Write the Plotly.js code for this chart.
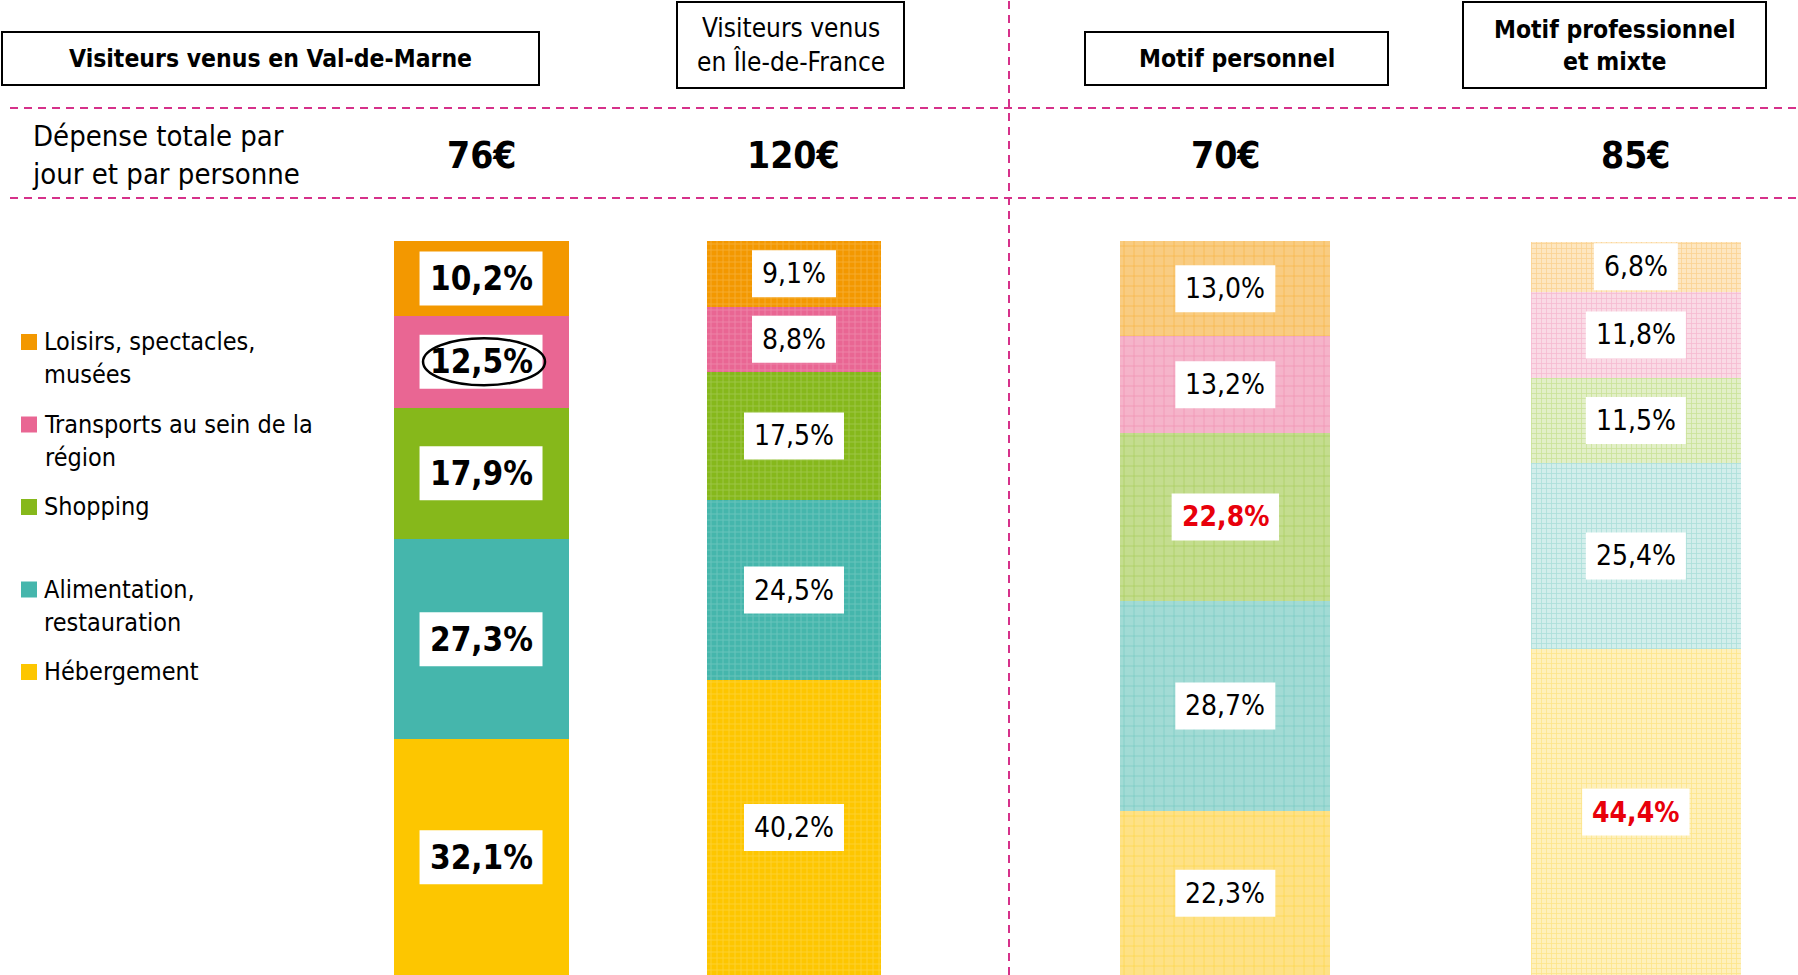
<!DOCTYPE html>
<html lang="fr">
<head>
    <meta charset="UTF-8">
    <script src="https://cdn.plot.ly/plotly-3.0.1.min.js"></script>
    <style>
        html, body, #plot {
            height: 100%;
            width: 100%;
            margin: 0;
            padding: 0;
            overflow: hidden;
            background: #ffffff;
        }
    </style>
</head>
<body>
<div id="plot"></div>
<script>
    // one stacked bar per group
    const groups = ['Val-de-Marne', 'Île-de-France', 'Motif personnel', 'Motif professionnel et mixte'];
    const groupTitles = ['Visiteurs venus en Val-de-Marne', 'Visiteurs venus<br>en Île-de-France', 'Motif personnel', 'Motif professionnel<br>et mixte'];
    const dailySpend = ['76€', '120€', '70€', '85€'];

    // spending categories, bottom of the stack first
    const categories = ['Hébergement', 'Alimentation,<br>restauration', 'Shopping', 'Transports au sein de la<br>région', 'Loisirs, spectacles,<br>musées'];
    const hebergement = [32.1, 40.2, 22.3, 44.4];
    const alimentation = [27.3, 24.5, 28.7, 25.4];
    const shopping = [17.9, 17.5, 22.8, 11.5];
    const transports = [12.5, 8.8, 13.2, 11.8];
    const loisirs = [10.2, 9.1, 13.0, 6.8];
    const shares = [hebergement, alimentation, shopping, transports, loisirs];

    // [category index, group index] of the values printed in red, and the circled one
    const redValues = [[2, 2], [0, 3]];
    const circledValue = [3, 0];

    function loadChart() {
        const W = 1798, H = 975;
        const font = '"Liberation Sans Narrow", "DejaVu Sans Condensed", "Arial Narrow", sans-serif';
        const px = x => x / W;
        const py = y => 1 - y / H;

        // pixels per category on each x axis and per percent on the y axis
        const catPx = [313, 410.5];
        const plotTop = 241;
        const unitPx = (H - plotTop) / 100;

        const baseColors = ['#FDC600', '#45B6AC', '#86B81B', '#E96693', '#F39800'];
        const midColors = ['#FEE186', '#A2DBD5', '#C4DD8F', '#F5B4CA', '#F9CC82'];
        const paleColors = ['#FEF0BC', '#D2EEEB', '#E2EFC8', '#FADAE5', '#FDE6C0'];
        const lineColors = ['#FDD95A', '#86D0C9', '#B2D46A', '#F19CBB', '#F8BF63'];

        // pattern used by each group
        function markerFor(g, c) {
            if (g === 0) {
                return {color: baseColors[c], line: {width: 0}};
            }
            if (g === 1) {
                return {
                    color: baseColors[c], line: {width: 0},
                    pattern: {shape: '+', fillmode: 'overlay', bgcolor: baseColors[c],
                              fgcolor: 'rgba(255,255,255,0.4)', size: 6, solidity: 0.28}
                };
            }
            if (g === 2) {
                return {
                    color: midColors[c], line: {width: 0},
                    pattern: {shape: '+', fillmode: 'overlay', bgcolor: midColors[c],
                              fgcolor: baseColors[c], size: 10, solidity: 0.12}
                };
            }
            return {
                color: paleColors[c], line: {width: 0},
                pattern: {shape: '+', fillmode: 'overlay', bgcolor: paleColors[c],
                          fgcolor: lineColors[c], size: 5, solidity: 0.3}
            };
        }

        const axisOf = g => (g < 2 ? 'x' : 'x2');
        const catIndex = g => g % 2;
        const traces = [];
        groups.forEach((grp, g) => {
            shares.forEach((vals, c) => {
                traces.push({
                    type: 'bar',
                    x: [grp],
                    y: [vals[g]],
                    xaxis: axisOf(g),
                    yaxis: 'y',
                    width: g < 2 ? 0.559 : 0.512,
                    marker: markerFor(g, c),
                    hoverinfo: 'skip',
                    showlegend: false
                });
            });
        });

        const annotations = [];
        const shapes = [];
        const ctx = document.createElement('canvas').getContext('2d');

        // value labels in white boxes
        let ellipse = null;
        groups.forEach((grp, g) => {
            let base = 0;
            const k = g < 2 ? 0 : 1;
            shares.forEach((vals, c) => {
                const v = vals[g];
                const label = v.toFixed(1).replace('.', ',') + '%';
                const isRed = redValues.some(r => r[0] === c && r[1] === g);
                const bold = g === 0 || isRed;
                const size = g === 0 ? 33 : 28;
                ctx.font = (bold ? 'bold ' : '') + size + 'px ' + font;
                const boxW = ctx.measureText(label).width + 20;
                const boxH = g === 0 ? 54 : 47;
                const mid = base + v / 2;
                const cx = catIndex(g);
                shapes.push({
                    type: 'rect', layer: 'above',
                    xref: axisOf(g), yref: 'y',
                    x0: cx - boxW / 2 / catPx[k], x1: cx + boxW / 2 / catPx[k],
                    y0: mid - boxH / 2 / unitPx, y1: mid + boxH / 2 / unitPx,
                    fillcolor: '#ffffff', line: {width: 0}
                });
                annotations.push({
                    xref: axisOf(g), yref: 'y',
                    x: grp, y: mid,
                    xanchor: 'center', yanchor: 'middle',
                    text: bold ? '<b>' + label + '</b>' : label,
                    showarrow: false,
                    font: {family: font, size: size, color: isRed ? '#E8000B' : '#000000'}
                });
                if (c === circledValue[0] && g === circledValue[1]) {
                    ellipse = {
                        type: 'circle', layer: 'above',
                        xref: axisOf(g), yref: 'y',
                        x0: cx - 58 / catPx[k], x1: cx + 64 / catPx[k],
                        y0: mid - 23.5 / unitPx, y1: mid + 23.5 / unitPx,
                        line: {color: '#000000', width: 2.5}
                    };
                }
                base += v;
            });
        });
        if (ellipse) shapes.push(ellipse);

        // header boxes
        const boxes = [[2, 32, 539, 85], [677, 2, 904, 88], [1085, 32, 1388, 85], [1463, 2, 1766, 88]];
        boxes.forEach((b, i) => {
            shapes.push({
                type: 'rect', xref: 'paper', yref: 'paper',
                x0: px(b[0]), x1: px(b[2]), y0: py(b[1]), y1: py(b[3]),
                line: {color: '#000000', width: 2}, fillcolor: '#ffffff'
            });
            annotations.push({
                xref: 'paper', yref: 'paper',
                x: px((b[0] + b[2]) / 2), y: py((b[1] + b[3]) / 2),
                xanchor: 'center', yanchor: 'middle',
                text: i === 1 ? groupTitles[i] : '<b>' + groupTitles[i] + '</b>',
                showarrow: false,
                font: {family: font, size: i === 1 ? 26 : 24.5, color: '#000000'}
            });
        });

        // daily spend row
        groups.forEach((grp, g) => {
            annotations.push({
                xref: axisOf(g), yref: 'paper',
                x: grp, y: py(155),
                xanchor: 'center', yanchor: 'middle',
                text: '<b>' + dailySpend[g] + '</b>',
                showarrow: false,
                font: {family: font, size: 37, color: '#000000'}
            });
        });
        annotations.push({
            xref: 'paper', yref: 'paper', x: px(30), y: py(155),
            xanchor: 'left', yanchor: 'middle', align: 'left',
            text: 'Dépense totale par<br>jour et par personne',
            showarrow: false,
            font: {family: font, size: 29, color: '#000000'}
        });

        // dashed separators
        const dash = {color: '#D6318A', width: 2, dash: '8px,6px'};
        [108, 198].forEach(y => {
            shapes.push({type: 'line', xref: 'paper', yref: 'paper', x0: px(10), x1: 1, y0: py(y), y1: py(y), line: dash});
        });
        shapes.push({type: 'line', xref: 'paper', yref: 'paper', x0: px(1009), x1: px(1009), y0: 0, y1: 1, line: dash});

        // legend, top of the stack first
        for (let i = 0; i < categories.length; i++) {
            const c = categories.length - 1 - i;
            const top = 334 + 82.5 * i;
            shapes.push({
                type: 'rect', xref: 'paper', yref: 'paper',
                x0: px(21), x1: px(37), y0: py(top), y1: py(top + 16),
                fillcolor: baseColors[c], line: {width: 0}
            });
            annotations.push({
                xref: 'paper', yref: 'paper', x: px(42), y: py(top - 9),
                xanchor: 'left', yanchor: 'top', align: 'left',
                text: categories[c], showarrow: false,
                font: {family: font, size: 25, color: '#000000'}
            });
        }

        const hidden = {showgrid: false, zeroline: false, showline: false, showticklabels: false, ticks: '', fixedrange: true};
        const layout = {
            width: W,
            height: H,
            margin: {l: 0, r: 0, t: 0, b: 0, pad: 0},
            paper_bgcolor: '#ffffff',
            plot_bgcolor: 'rgba(0,0,0,0)',
            barmode: 'stack',
            showlegend: false,
            xaxis: Object.assign({}, hidden, {type: 'category', domain: [0, px(1009)], range: [-1.537, 1.687]}),
            xaxis2: Object.assign({}, hidden, {type: 'category', domain: [px(1009), 1], range: [-0.527, 1.395], anchor: 'y'}),
            yaxis: Object.assign({}, hidden, {domain: [0, 1 - plotTop / H], range: [0, 100]}),
            annotations: annotations,
            shapes: shapes
        };

        Plotly.newPlot('plot', traces, layout, {displayModeBar: false, staticPlot: true});
    }

    document.addEventListener('DOMContentLoaded', loadChart);
</script>
</body>
</html>
